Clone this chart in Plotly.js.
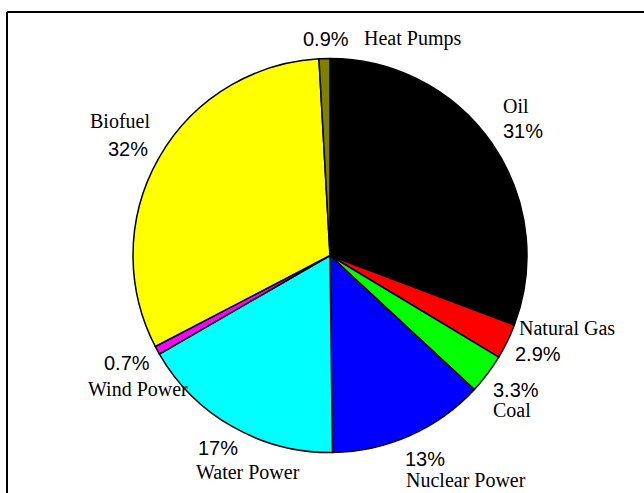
<!DOCTYPE html>
<html>
<head>
<meta charset="utf-8">
<script src="https://cdn.plot.ly/plotly-3.0.1.min.js"></script>
<style>
  html, body { margin: 0; padding: 0; background: #ffffff; }
  #chart { width: 644px; height: 493px; }
</style>
</head>
<body>
<div id="chart"></div>
<script>
// Data
const categories = ['Oil', 'Natural Gas', 'Coal', 'Nuclear Power', 'Water Power', 'Wind Power', 'Biofuel', 'Heat Pumps'];
const shares = [31, 2.9, 3.3, 13, 17, 0.7, 32, 0.9];
const shareLabels = ['31%', '2.9%', '3.3%', '13%', '17%', '0.7%', '32%', '0.9%'];
const sliceColors = ['#000000', '#ff0000', '#00ff00', '#0000ff', '#00ffff', '#ff00ff', '#ffff00', '#808000'];

// Label placement (pixel offsets of each text line from the slice's outer mid-point)
const nameOffsets = [[10, -30.5], [11, -6.5], [4.6, 43], [-4.9, 51.4], [-37.6, 52.3], [-70.3, 45.7], [-7.8, -30.1], [38.5, -13.5]];
const pctOffsets  = [[10, -5.5], [6.8, 19.5], [4.6, 23.1], [-5.9, 30.4], [-35.6, 28.3], [-54.3, 19.7], [-9.8, -2.1], [-22.5, -12.5]];
const labelAnchor = ['left', 'left', 'left', 'left', 'left', 'left', 'right', 'left'];

const W = 644, H = 493;
const cx = 330, cy = 255.5, R = 197;
const serif = "'Liberation Serif', 'Times New Roman', serif";
const sans = "'Liberation Sans', Arial, sans-serif";
const FS = 20;

const trace = {
  type: 'pie',
  labels: categories,
  values: shares,
  textinfo: 'none',
  sort: false,
  direction: 'clockwise',
  rotation: 0,
  hoverinfo: 'label+percent',
  marker: { colors: sliceColors, line: { color: '#000000', width: 1.5 } },
  domain: { x: [(cx - R) / W, (cx + R) / W], y: [1 - (cy + R) / H, 1 - (cy - R) / H] },
  showlegend: false
};

// Compute slice mid-angles from the data to place labels
const total = shares.reduce((a, b) => a + b, 0);
let cum = 0;
const annotations = [];
shares.forEach((v, i) => {
  const mid = (cum + v / 2) / total * 2 * Math.PI;
  cum += v;
  const mx = cx + R * Math.sin(mid);
  const my = cy - R * Math.cos(mid);
  const anchor = labelAnchor[i];
  const padX = anchor === 'left' ? -1 : 1;
  const lines = [
    { text: categories[i], off: nameOffsets[i], family: serif },
    { text: shareLabels[i], off: pctOffsets[i], family: sans }
  ];
  lines.forEach(l => {
    const px = mx + l.off[0] + padX;
    const baseline = my + l.off[1];
    const py = baseline - 0.3375 * FS;
    annotations.push({
      xref: 'paper', yref: 'paper',
      x: px / W, y: 1 - py / H,
      xanchor: anchor, yanchor: 'middle',
      text: l.text, showarrow: false,
      font: { family: l.family, size: FS, color: '#000000' }
    });
  });
});

const layout = {
  width: W, height: H,
  margin: { l: 0, r: 0, t: 0, b: 0 },
  paper_bgcolor: '#ffffff',
  showlegend: false,
  annotations: annotations,
  shapes: [
    { type: 'line', xref: 'paper', yref: 'paper', x0: 7 / W, x1: 1.02, y0: 1 - 12 / H, y1: 1 - 12 / H, line: { color: '#000000', width: 2 } },
    { type: 'line', xref: 'paper', yref: 'paper', x0: 7 / W, x1: 7 / W, y0: 1 - 12 / H, y1: -0.02, line: { color: '#000000', width: 2 } }
  ]
};

Plotly.newPlot('chart', [trace], layout, { displayModeBar: false, staticPlot: true });
</script>
</body>
</html>
